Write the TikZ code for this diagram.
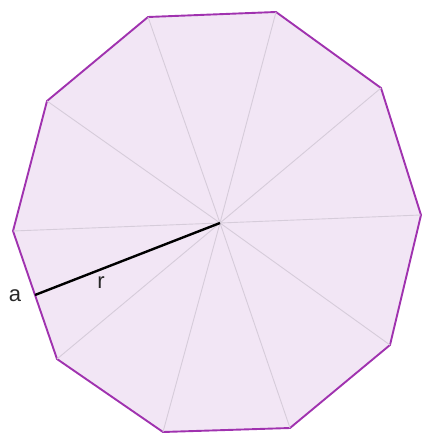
\documentclass[tikz,border=0pt]{standalone}
\usepackage{fontspec}
\setmainfont{Liberation Sans}
\usetikzlibrary{calc}
\definecolor{decafill}{RGB}{242,230,245}
\definecolor{decaedge}{RGB}{160,50,175}
\definecolor{spokegray}{RGB}{214,204,218}
\definecolor{labelgray}{RGB}{40,40,40}

\begin{document}
\begin{tikzpicture}[x=1pt,y=-1pt]

\useasboundingbox (0,0) rectangle (422,435);

% Centre and corners
\coordinate (O) at (220,223);
\coordinate (V1) at (148,17);
\coordinate (V2) at (276,12);
\coordinate (V3) at (381,88);
\coordinate (V4) at (421,215);
\coordinate (V5) at (390,345);
\coordinate (V6) at (290,428);
\coordinate (V7) at (163,432);
\coordinate (V8) at (57,359);
\coordinate (V9) at (13,231);
\coordinate (V10) at (47,101);

% Decagon
\draw[decaedge, line width=1.9pt, line join=round, fill=decafill]
(V1) -- (V2) -- (V3) -- (V4) -- (V5) -- (V6) -- (V7) -- (V8) -- (V9) -- (V10) -- cycle;

% Spokes
\draw[spokegray, line width=0.9pt] (O) -- (V1);
\draw[spokegray, line width=0.9pt] (O) -- (V2);
\draw[spokegray, line width=0.9pt] (O) -- (V3);
\draw[spokegray, line width=0.9pt] (O) -- (V4);
\draw[spokegray, line width=0.9pt] (O) -- (V5);
\draw[spokegray, line width=0.9pt] (O) -- (V6);
\draw[spokegray, line width=0.9pt] (O) -- (V7);
\draw[spokegray, line width=0.9pt] (O) -- (V8);
\draw[spokegray, line width=0.9pt] (O) -- (V9);
\draw[spokegray, line width=0.9pt] (O) -- (V10);

% Radius to side
\coordinate (A) at ($(V8)!0.5!(V9)$);
\draw[line width=2.4pt] (O) -- (A);

% Labels
\node[labelgray, font=\fontsize{22}{26}\selectfont, inner sep=0pt] (alabel) at (15,296) {a};
\node[labelgray, font=\fontsize{22}{26}\selectfont, inner sep=0pt] (rlabel) at (101,283) {r};

\end{tikzpicture}
\end{document}
